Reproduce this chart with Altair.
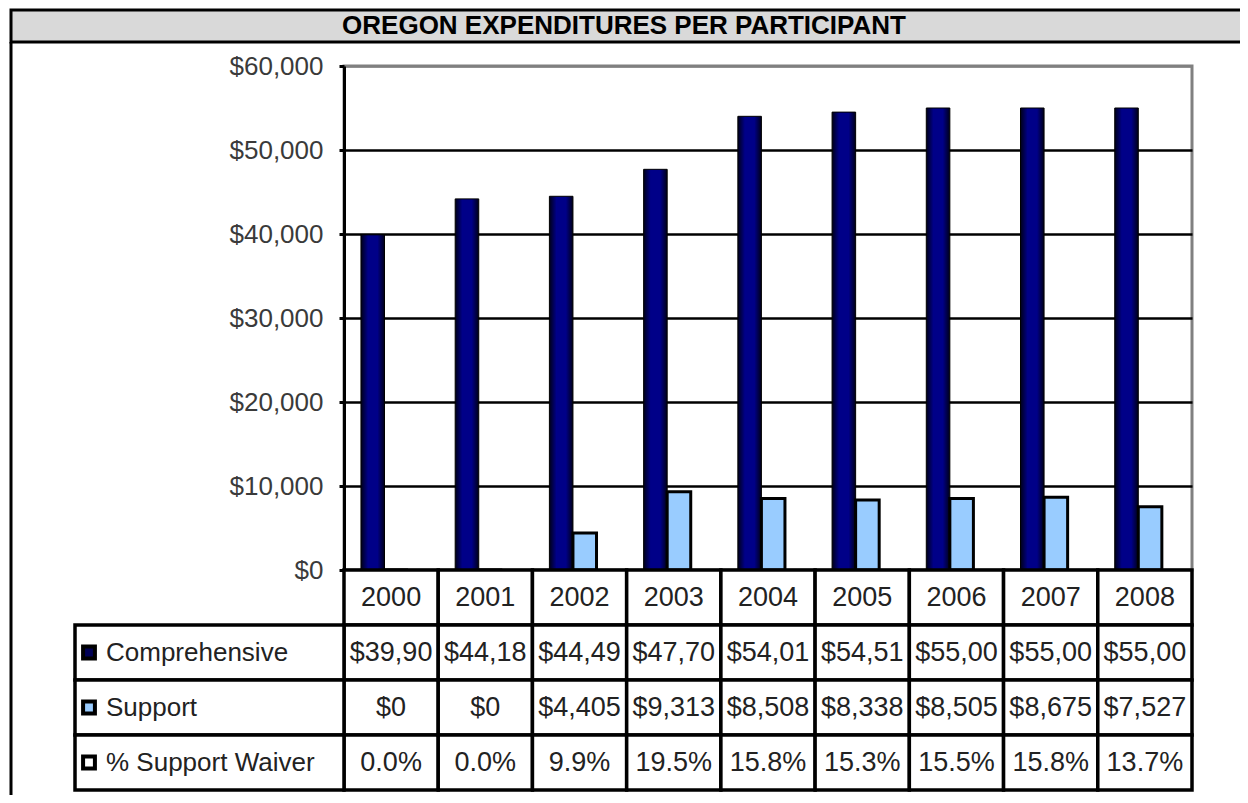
import altair as alt
import pandas as pd

# ---------------- data ----------------
title_text = "OREGON EXPENDITURES PER PARTICIPANT"
years = ["2000", "2001", "2002", "2003", "2004", "2005", "2006", "2007", "2008"]
comprehensive = [39900, 44180, 44490, 47700, 54010, 54510, 55000, 55000, 55000]
support = [0, 0, 4405, 9313, 8508, 8338, 8505, 8675, 7527]
comp_labels = ["$39,90", "$44,18", "$44,49", "$47,70", "$54,01", "$54,51", "$55,00", "$55,00", "$55,00"]
support_labels = ["$0", "$0", "$4,405", "$9,313", "$8,508", "$8,338", "$8,505", "$8,675", "$7,527"]
waiver_labels = ["0.0%", "0.0%", "9.9%", "19.5%", "15.8%", "15.3%", "15.5%", "15.8%", "13.7%"]
series_names = ["Comprehensive", "Support"]
row_names = ["Comprehensive", "Support", "% Support Waiver"]
y_ticks = [0, 10000, 20000, 30000, 40000, 50000, 60000]

# ---------------- tables for the library ----------------
bars_comp = pd.DataFrame({"year": years, "series": "Comprehensive", "value": comprehensive})
bars_supp = pd.DataFrame({"year": years, "series": "Support", "value": support})

cells = []
for i, y in enumerate(years):
    cells.append({"year": y, "row": "year", "text": y})
    cells.append({"year": y, "row": "Comprehensive", "text": comp_labels[i]})
    cells.append({"year": y, "row": "Support", "text": support_labels[i]})
    cells.append({"year": y, "row": "% Support Waiver", "text": waiver_labels[i]})
cells = pd.DataFrame(cells)
labels = pd.DataFrame({"row": row_names})

# ---------------- styles ----------------
FONT = "Liberation Sans"
W, H = 848, 504
x_scale = alt.Scale(domain=years, paddingInner=0, paddingOuter=0)
xo_scale = alt.Scale(domain=series_names, paddingInner=0, paddingOuter=1, align=0.36)
y_scale = alt.Scale(domain=[0, 60000], nice=False)
row_domain = ["year"] + row_names
t_scale = alt.Scale(domain=row_domain, range=[H, H + 220], paddingInner=0, paddingOuter=0)

navy_grad = {
    "gradient": "linear", "x1": 0, "x2": 1, "y1": 0, "y2": 0,
    "stops": [
        {"offset": 0, "color": "#000018"},
        {"offset": 0.3, "color": "#000088"},
        {"offset": 0.7, "color": "#000088"},
        {"offset": 1, "color": "#000018"},
    ],
}

y_axis = alt.Axis(
    values=y_ticks, format="$,.0f", title=None,
    labelFont=FONT, labelFontSize=26, labelColor="#3a3a3a", labelPadding=16,
    domainColor="black", domainWidth=3,
    tickColor="black", tickWidth=3, tickSize=5,
    grid=True, gridWidth=2.5,
    gridColor=alt.condition("datum.value >= 60000", alt.value("#808080"), alt.value("black")),
)

comp_layer = alt.Chart(bars_comp).mark_bar(fill=navy_grad, stroke="black", strokeWidth=1).encode(
    x=alt.X("year:N", scale=x_scale, axis=None),
    xOffset=alt.XOffset("series:N", scale=xo_scale),
    y=alt.Y("value:Q", scale=y_scale, axis=y_axis),
)
supp_layer = alt.Chart(bars_supp).mark_bar(fill="#99CCFF", stroke="black", strokeWidth=3).encode(
    x=alt.X("year:N", scale=x_scale, axis=None),
    xOffset=alt.XOffset("series:N", scale=xo_scale),
    y=alt.Y("value:Q", scale=y_scale, axis=None),
)

cell_rects = alt.Chart(cells).mark_rect(fill="white", stroke="black", strokeWidth=3.5).encode(
    x=alt.X("year:N", scale=x_scale, axis=None),
    y=alt.Y("row:N", scale=t_scale, axis=None),
)
cell_text = alt.Chart(cells).mark_text(font=FONT, fontSize=27, color="#222222", baseline="middle").encode(
    x=alt.X("year:N", scale=x_scale, axis=None),
    y=alt.Y("row:N", scale=t_scale, axis=None),
    text="text:N",
)
label_rects = alt.Chart(labels).mark_rect(fill="white", stroke="black", strokeWidth=3.5).encode(
    x=alt.value(-269), x2=alt.value(0),
    y=alt.Y("row:N", scale=t_scale, axis=None),
)
swatches = alt.Chart(labels).mark_point(shape="square", filled=True, size=140, stroke="black",
                                        strokeWidth=4, opacity=1).encode(
    x=alt.value(-255),
    y=alt.Y("row:N", scale=t_scale, axis=None),
    fill=alt.Fill("row:N", scale=alt.Scale(domain=row_names, range=["#000055", "#99CCFF", "white"]),
                  legend=None),
)
label_text = alt.Chart(labels).mark_text(font=FONT, fontSize=26, color="#222222", align="left",
                                         baseline="middle").encode(
    x=alt.value(-238),
    y=alt.Y("row:N", scale=t_scale, axis=None),
    text="row:N",
)

deco = pd.DataFrame({"t": [title_text]})
title_bar = alt.Chart(deco).mark_rect(fill="#D9D9D9", stroke="black", strokeWidth=3).encode(
    x=alt.value(-333), x2=alt.value(920), y=alt.value(-56), y2=alt.value(-24),
)
frame_line = alt.Chart(deco).mark_rule(stroke="black", strokeWidth=3).encode(
    x=alt.value(-333), y=alt.value(-24), y2=alt.value(H + 240),
)
title_label = alt.Chart(deco).mark_text(font=FONT, fontSize=26, fontWeight="bold", color="black",
                                        baseline="middle").encode(
    x=alt.value(280), y=alt.value(-40), text="t:N",
)

chart = alt.layer(
    frame_line, title_bar, title_label,
    comp_layer, supp_layer,
    cell_rects, cell_text, label_rects, swatches, label_text,
).resolve_scale(y="independent").properties(
    width=W, height=H,
    autosize=alt.AutoSizeParams(type="none"),
    padding={"left": 336, "top": 58, "right": 48, "bottom": 225},
).configure_view(stroke="#808080", strokeWidth=3)

chart.save("out.html", embed_options={"renderer": "svg", "actions": False})
